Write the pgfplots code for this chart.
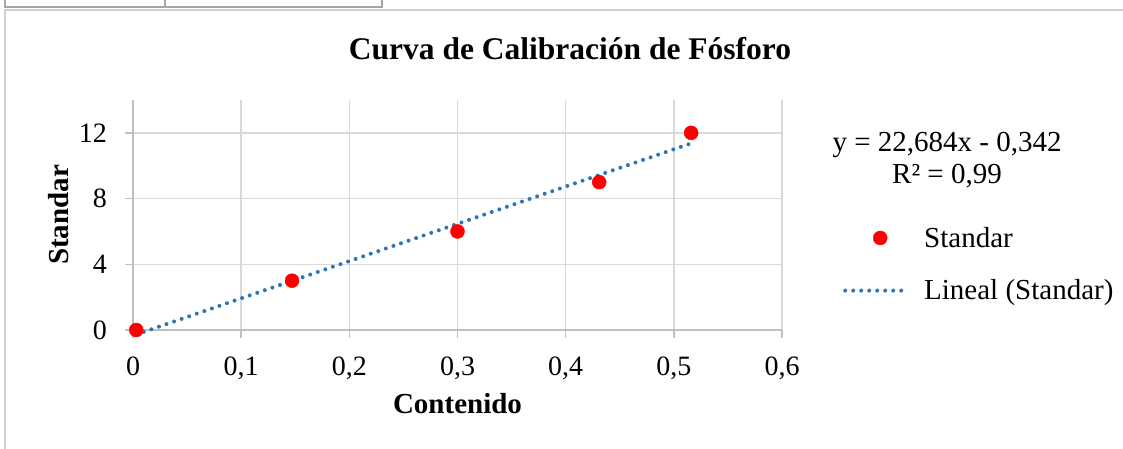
\documentclass[border=0pt]{standalone}
\usepackage{pgfplots}
\pgfplotsset{compat=1.18}
\usepackage{fontspec}
\setmainfont{Liberation Serif}
\definecolor{gridc}{HTML}{D9D9D9}
\definecolor{axc}{HTML}{BFBFBF}
\definecolor{trend}{HTML}{2E75B6}
\definecolor{framec}{HTML}{D0D0D0}
\definecolor{cellc}{HTML}{A6A6A6}
\pgfplotsset{
  legdot/.style={legend image code/.code={\draw[draw=none] (0pt,0pt) -- (63pt,0pt); \draw[##1] plot coordinates {(35pt,0pt)};}},
  legline/.style={legend image code/.code={\draw[##1] (0pt,0pt) -- (63pt,0pt);}},
}
\begin{document}
\begin{tikzpicture}[x=1pt,y=1pt]
\useasboundingbox (0,0) rectangle (1123,449);
\fill[white] (0,0) rectangle (1123,449);
% spreadsheet cells above the chart
\draw[cellc, line width=1.3pt] (5,452) -- (5,442) -- (382,442) -- (382,452);
\draw[cellc, line width=1.3pt] (165,442) -- (165,452);
% chart frame
\draw[framec, line width=1.3pt] (5,-10) rectangle (1140,439);
% title
\node[anchor=base, font=\fontsize{31.5}{36}\selectfont\bfseries, inner sep=0pt] at (570,389) {Curva de Calibración de Fósforo};
\begin{axis}[
  at={(133pt,119pt)}, anchor=south west,
  scale only axis, width=649pt, height=230pt,
  xmin=0, xmax=0.6, ymin=0, ymax=14,
  xtick={0,0.1,0.2,0.3,0.4,0.5,0.6},
  xticklabels={0,{0,1},{0,2},{0,3},{0,4},{0,5},{0,6}},
  ytick={0,4,8,12},
  yticklabels={0,4,8,12},
  axis x line*=bottom, axis y line*=left,
  grid=major,
  major grid style={gridc, line width=1.5pt},
  axis line style={axc, line width=1.5pt},
  tick style={axc, line width=1.5pt},
  tick align=outside, major tick length=8pt,
  /pgf/number format/assume math mode=true,
  tick label style={font=\fontsize{28}{32}\selectfont, inner sep=0pt},
  xticklabel style={anchor=north, yshift=-19pt},
  yticklabel style={anchor=east, xshift=-18pt},
  xlabel={Contenido}, ylabel={Standar},
  label style={font=\fontsize{29}{33}\selectfont\bfseries, inner sep=0pt},
  xlabel style={at={(axis description cs:0.5,-0.365)}, anchor=base},
  ylabel style={at={(axis description cs:-0.115,0.5)}, anchor=center, rotate=0},
  legend style={at={(axis description cs:1.094,0.448)}, anchor=north west,
    draw=none, fill=none, inner sep=0pt, row sep=31pt,
    font=\fontsize{29}{33}\selectfont,
    nodes={inner sep=0pt, anchor=west}},
  legend cell align=left,
  clip=false,
]
\addplot[only marks, mark=*, mark size=7pt, red, mark options={draw=none, fill=red}, legdot]
  coordinates {(0.003,0) (0.147,3) (0.300,6) (0.431,9) (0.516,12)};
\addlegendentry{\hspace{14pt}Standar}
\addplot[trend, line width=4pt, line cap=round, dash pattern=on 0pt off 8pt, no marks, legline]
  coordinates {(0.003,-0.274) (0.516,11.363)};
\addlegendentry{\hspace{14pt}Lineal (Standar)}
\end{axis}
\node[anchor=base, font=\fontsize{29}{33}\selectfont, inner sep=0pt] at (947,297) {y = 22,684x - 0,342};
\node[anchor=base, font=\fontsize{29}{33}\selectfont, inner sep=0pt] at (947,265) {R² = 0,99};
\end{tikzpicture}
\end{document}
